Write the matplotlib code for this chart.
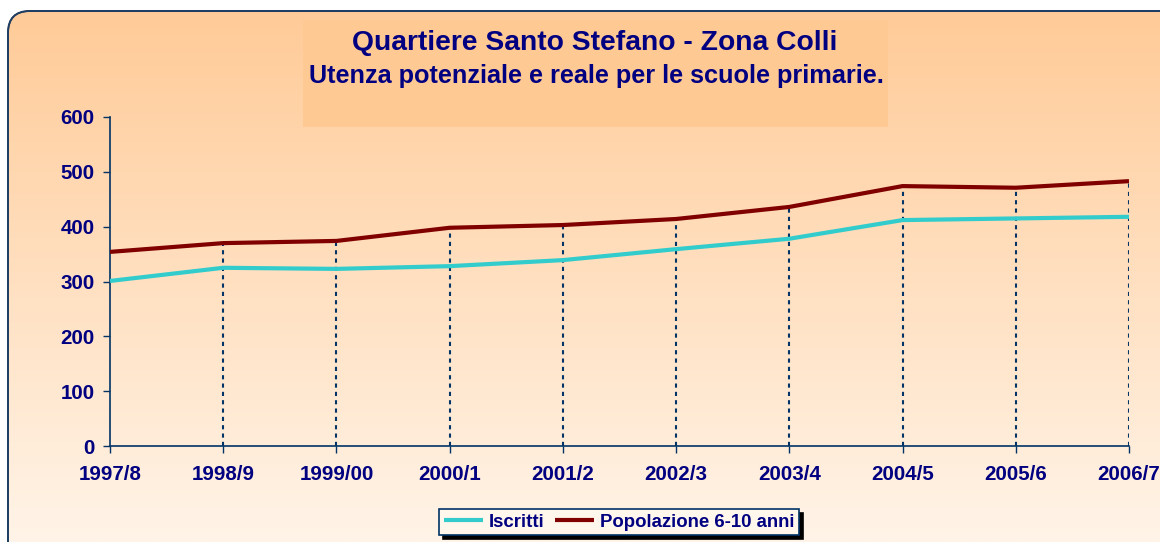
import numpy as np
import matplotlib
matplotlib.use("Agg")
import matplotlib.pyplot as plt
from matplotlib.patches import FancyBboxPatch, Rectangle

categories = ["1997/8", "1998/9", "1999/00", "2000/1", "2001/2", "2002/3",
              "2003/4", "2004/5", "2005/6", "2006/7"]
iscritti = [301, 325, 323, 328, 339, 359, 378, 412, 415, 418]
popolazione = [354, 370, 374, 398, 403, 414, 436, 474, 471, 483]
yticks = [0, 100, 200, 300, 400, 500, 600]

title = "Quartiere Santo Stefano - Zona Colli"
subtitle = "Utenza potenziale e reale per le scuole primarie."

NAVY = "#000080"
AXC = "#003366"

plt.rcParams["font.family"] = ["Liberation Sans", "DejaVu Sans"]

W, H = 1160, 542
fig = plt.figure(figsize=(W / 100, H / 100), dpi=100)
fig.patch.set_facecolor("white")

# gradient background
bg = fig.add_axes([0, 0, 1, 1], zorder=0)
bg.set_axis_off()
top = np.array([255, 202, 150]) / 255
bot = np.array([255, 244, 232]) / 255
t = np.linspace(0, 1, 256)[:, None]
grad = top[None, :] * (1 - t) + bot[None, :] * t
grad = np.repeat(grad[:, None, :], 2, axis=1)
bg.imshow(grad, aspect="auto", extent=[0, W, H, 0])
bg.set_xlim(0, W)
bg.set_ylim(H, 0)
clip = FancyBboxPatch((8, 11), W + 30, H + 30, boxstyle="round,pad=0,rounding_size=22",
                      transform=bg.transData, facecolor="none")
bg.add_patch(clip)
bg.images[0].set_clip_path(clip)
border = FancyBboxPatch((8, 11), W + 30, H + 30, boxstyle="round,pad=0,rounding_size=22",
                        facecolor="none", edgecolor="#1f3f66", linewidth=1.4,
                        transform=bg.transData)
bg.add_patch(border)
# title box
bg.add_patch(Rectangle((303, 20), 585, 107, facecolor="#FFC993", edgecolor="none"))
bg.text(595, 43, title, ha="center", va="center", fontsize=20.3, fontweight="bold", color=NAVY)
bg.text(596, 76, subtitle, ha="center", va="center", fontsize=18.2, fontweight="bold", color=NAVY)

# main axes
ax = fig.add_axes([110 / W, 1 - 446 / H, (1129 - 110) / W, (446 - 117) / H], zorder=2)
ax.patch.set_alpha(0)
x = np.arange(len(categories))
ax.vlines(x[1:], 0, np.array(popolazione)[1:], colors=AXC, linestyles=(0, (2, 2)),
          linewidth=1.5, zorder=1)
ax.plot(x, iscritti, color="#33CCCC", linewidth=3, label="Iscritti", zorder=3, solid_capstyle="butt")
ax.plot(x, popolazione, color="#800000", linewidth=3, label="Popolazione 6-10 anni", zorder=3,
        solid_capstyle="butt")
ax.set_xlim(0, len(categories) - 1)
ax.set_ylim(0, 600)
ax.set_yticks(yticks)
ax.set_xticks(x)
ax.set_xticklabels(categories)
for s in ["top", "right"]:
    ax.spines[s].set_visible(False)
for s in ["left", "bottom"]:
    ax.spines[s].set_color(AXC)
    ax.spines[s].set_linewidth(1.2)
ax.tick_params(axis="both", colors=AXC, labelcolor=NAVY, labelsize=14.8, length=5, width=1.0)
ax.tick_params(axis="x", pad=9)
ax.tick_params(axis="y", pad=6)
for lab in ax.get_xticklabels() + ax.get_yticklabels():
    lab.set_fontweight("bold")

# legend
lcx = (438 + 800) / 2 / W
lcy = 1 - 522 / H
leg = fig.legend(loc="center", bbox_to_anchor=(lcx, lcy), ncol=2, frameon=True,
                 fancybox=False, shadow={"color": "black", "alpha": 1, "ox": 3, "oy": -3},
                 prop={"weight": "bold", "size": 13.4}, handlelength=2.1, handletextpad=0.3,
                 columnspacing=0.6, borderpad=0.25, borderaxespad=0, labelcolor=NAVY)
leg.get_frame().set_facecolor("#FFF6EC")
leg.get_frame().set_edgecolor(AXC)
leg.get_frame().set_linewidth(1.2)
leg.set_zorder(5)

fig.savefig("out.png", dpi=100)
